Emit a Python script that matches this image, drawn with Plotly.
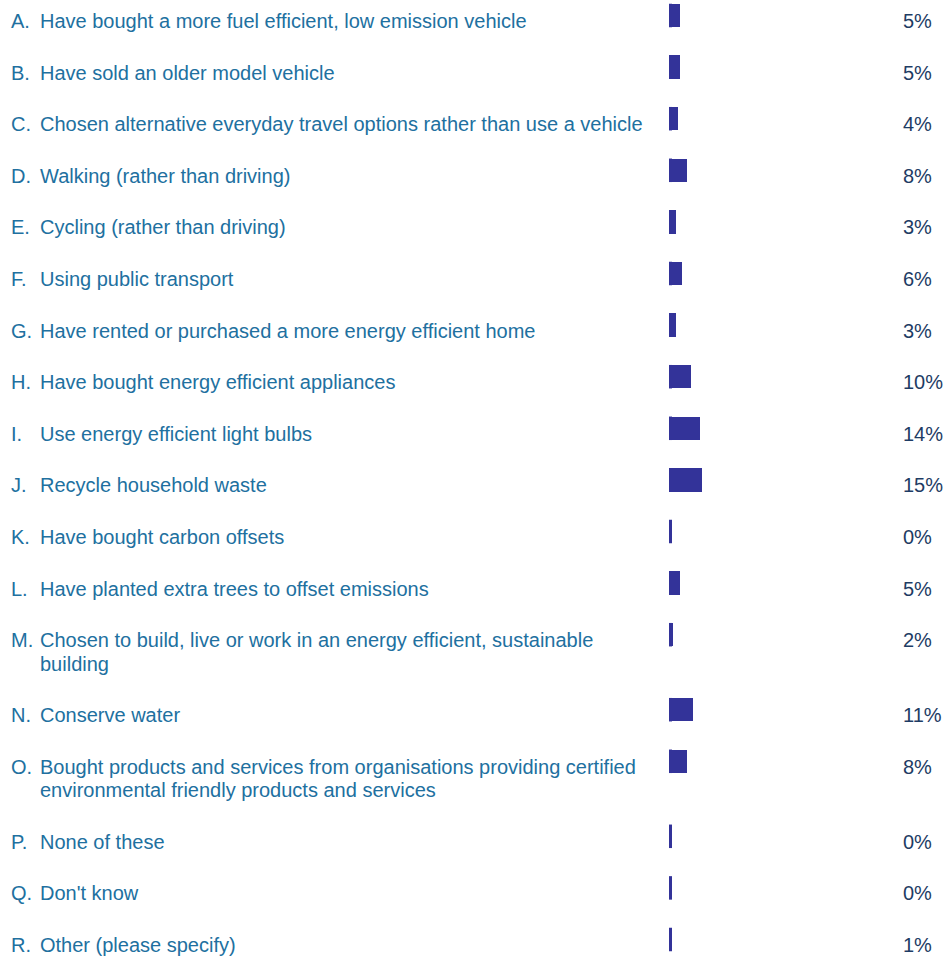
import plotly.graph_objects as go

# Survey responses: actions taken to reduce environmental impact
letters = ["A.", "B.", "C.", "D.", "E.", "F.", "G.", "H.", "I.", "J.",
           "K.", "L.", "M.", "N.", "O.", "P.", "Q.", "R."]
labels = [
    ["Have bought a more fuel efficient, low emission vehicle"],
    ["Have sold an older model vehicle"],
    ["Chosen alternative everyday travel options rather than use a vehicle"],
    ["Walking (rather than driving)"],
    ["Cycling (rather than driving)"],
    ["Using public transport"],
    ["Have rented or purchased a more energy efficient home"],
    ["Have bought energy efficient appliances"],
    ["Use energy efficient light bulbs"],
    ["Recycle household waste"],
    ["Have bought carbon offsets"],
    ["Have planted extra trees to offset emissions"],
    ["Chosen to build, live or work in an energy efficient, sustainable",
     "building"],
    ["Conserve water"],
    ["Bought products and services from organisations providing certified",
     "environmental friendly products and services"],
    ["None of these"],
    ["Don't know"],
    ["Other (please specify)"],
]
percent = [5, 5, 4, 8, 3, 6, 3, 10, 14, 15, 0, 5, 2, 11, 8, 0, 0, 1]

# Page geometry (pixels)
W, H = 945, 958
ROW = 51.6          # height of a single-line row
LINE = 23.4         # extra height per additional label line
BAR_H = 23.5
X0_PX = 669         # where bars start
PX_PER_PCT = 2.2

BAR_COLOR = "#333399"
LABEL_COLOR = "#21709F"
VALUE_COLOR = "#1E3C64"
FONT = "Liberation Sans, Arial, sans-serif"
FS = 20

# Row centres, rows with wrapped labels take more room
centres = []
y = 15.5
for lines in labels:
    centres.append(y)
    y += ROW + LINE * (len(lines) - 1)

fig = go.Figure()
fig.add_trace(go.Bar(
    x=percent, y=centres, orientation="h", width=BAR_H,
    marker=dict(color=BAR_COLOR, line=dict(width=0)),
    hoverinfo="skip",
))

shapes = []
annotations = []
TEXT_DY = 5.5
for yc, letter, lines, v in zip(centres, letters, labels, percent):
    # thin stub so that very small values remain visible
    shapes.append(dict(
        type="rect", xref="x", yref="y", xsizemode="pixel", xanchor=0,
        x0=0, x1=3, y0=yc - BAR_H / 2, y1=yc + BAR_H / 2,
        fillcolor=BAR_COLOR, line=dict(width=0), layer="below",
    ))
    annotations.append(dict(
        xref="paper", yref="y", x=9 / W, y=yc + TEXT_DY,
        xanchor="left", yanchor="middle", text=letter, showarrow=False,
        font=dict(family=FONT, size=FS, color=LABEL_COLOR),
    ))
    for k, line in enumerate(lines):
        annotations.append(dict(
            xref="paper", yref="y", x=38 / W, y=yc + TEXT_DY + LINE * k,
            xanchor="left", yanchor="middle", text=line, showarrow=False,
            font=dict(family=FONT, size=FS, color=LABEL_COLOR),
        ))
    annotations.append(dict(
        xref="paper", yref="y", x=901 / W, y=yc + TEXT_DY,
        xanchor="left", yanchor="middle", text=f"{v}%", showarrow=False,
        font=dict(family=FONT, size=FS, color=VALUE_COLOR),
    ))

fig.update_layout(
    width=W, height=H,
    margin=dict(l=0, r=0, t=0, b=0, pad=0),
    paper_bgcolor="white", plot_bgcolor="white",
    showlegend=False,
    xaxis=dict(range=[-X0_PX / PX_PER_PCT, (W - X0_PX) / PX_PER_PCT],
               visible=False, fixedrange=True),
    yaxis=dict(range=[H, 0], visible=False, fixedrange=True),
    shapes=shapes,
    annotations=annotations,
    bargap=0,
)

fig.write_html("out.html", config={"displayModeBar": False})
